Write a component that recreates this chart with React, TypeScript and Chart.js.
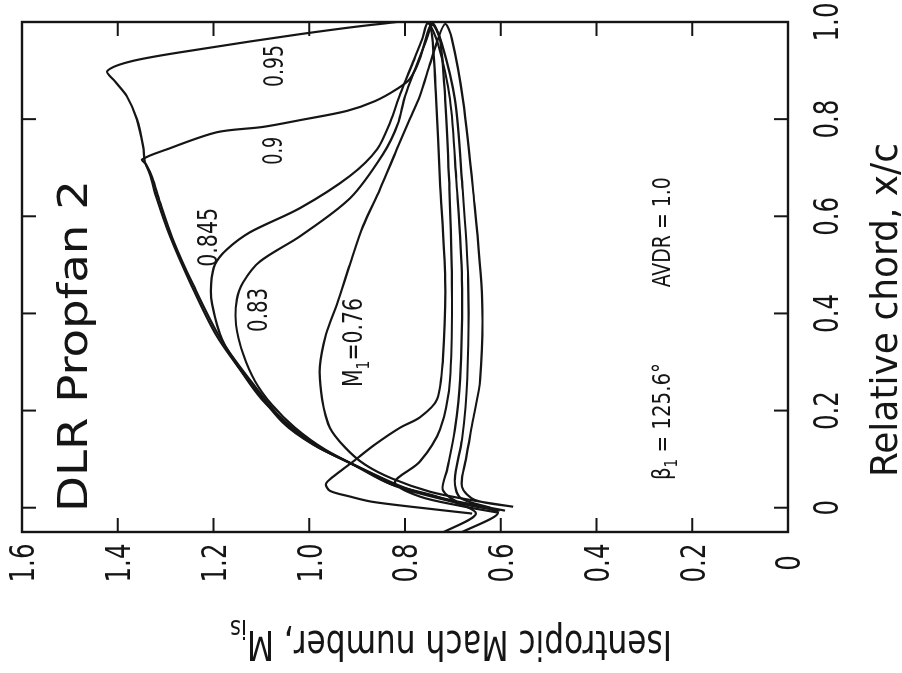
import React, { useEffect, useRef } from 'react';
import { Chart, registerables } from 'chart.js';

Chart.register(...registerables);

const FONT = '"Liberation Sans Narrow", "DejaVu Sans Condensed", "Open Sans", sans-serif';
const INK = '#151515';

// Axis ticks
const X_TICKS = [0, 0.2, 0.4, 0.6, 0.8, 1.0];
const X_TICK_LABELS = ['0', '0.2', '0.4', '0.6', '0.8', '1.0'];
const Y_TICKS = [0, 0.2, 0.4, 0.6, 0.8, 1.0, 1.2, 1.4, 1.6];
const Y_TICK_LABELS = ['0', '0.2', '0.4', '0.6', '0.8', '1.0', '1.2', '1.4', '1.6'];
const X_TITLE = 'Relative chord, x/c';
const Y_TITLE = 'Isentropic Mach number, M_{is}';

// Series: [x/c, M_is] along each blade-surface loop
const curve095: [number, number][] = [
  [-0.054, 0.727], [-0.012, 0.652], [0.021, 0.727], [0.049, 0.831], [0.089, 0.909],
  [0.130, 0.992], [0.175, 1.055], [0.258, 1.124], [0.353, 1.193], [0.464, 1.249],
  [0.559, 1.291], [0.635, 1.318], [0.687, 1.333], [0.711, 1.343], [0.744, 1.347],
  [0.800, 1.360], [0.847, 1.381], [0.878, 1.406], [0.899, 1.422], [0.920, 1.368],
  [0.944, 1.228], [0.975, 1.019], [0.996, 0.852], [1.002, 0.754], [0.975, 0.744],
  [0.841, 0.735], [0.676, 0.727], [0.470, 0.716], [0.305, 0.721], [0.223, 0.733],
  [0.186, 0.769], [0.165, 0.810], [0.130, 0.863], [0.093, 0.911], [0.064, 0.950],
  [0.049, 0.965], [0.035, 0.957], [0.023, 0.915], [0.012, 0.867], [-0.004, 0.733],
  [-0.012, 0.660],
];
const curve090: [number, number][] = [
  [-0.054, 0.689], [-0.010, 0.606], [0.016, 0.716], [0.045, 0.821], [0.085, 0.900],
  [0.126, 0.984], [0.171, 1.046], [0.252, 1.115], [0.346, 1.184], [0.460, 1.243],
  [0.553, 1.285], [0.629, 1.312], [0.680, 1.328], [0.707, 1.341], [0.717, 1.349],
  [0.738, 1.297], [0.773, 1.193], [0.784, 1.097], [0.798, 1.019], [0.817, 0.921],
  [0.837, 0.863], [0.862, 0.817], [0.883, 0.790], [0.924, 0.769], [0.998, 0.744],
  [0.965, 0.727], [0.841, 0.716], [0.676, 0.708], [0.470, 0.702], [0.264, 0.706],
  [0.161, 0.727], [0.095, 0.769], [0.052, 0.821], [0.023, 0.769], [0.004, 0.685],
  [-0.010, 0.606],
];
const curve0845: [number, number][] = [
  [-0.006, 0.591], [0.016, 0.706], [0.043, 0.810], [0.082, 0.894], [0.124, 0.978],
  [0.169, 1.040], [0.223, 1.099], [0.285, 1.145], [0.346, 1.182], [0.419, 1.203],
  [0.460, 1.205], [0.501, 1.197], [0.532, 1.172], [0.567, 1.124], [0.617, 1.019],
  [0.683, 0.915], [0.738, 0.858], [0.794, 0.831], [0.852, 0.810], [0.918, 0.783],
  [0.965, 0.764], [0.998, 0.752], [0.955, 0.731], [0.841, 0.706], [0.676, 0.693],
  [0.470, 0.681], [0.264, 0.685], [0.161, 0.696], [0.078, 0.712], [0.037, 0.721],
  [0.010, 0.685], [-0.006, 0.602],
];
const curve083: [number, number][] = [
  [0.000, 0.622], [0.014, 0.702], [0.041, 0.800], [0.078, 0.884], [0.120, 0.967],
  [0.165, 1.030], [0.212, 1.078], [0.260, 1.113], [0.316, 1.138], [0.377, 1.153],
  [0.429, 1.151], [0.464, 1.138], [0.507, 1.103], [0.559, 1.019], [0.637, 0.915],
  [0.728, 0.846], [0.790, 0.815], [0.847, 0.800], [0.913, 0.775], [0.961, 0.756],
  [0.994, 0.742], [0.955, 0.723], [0.841, 0.696], [0.676, 0.681], [0.470, 0.668],
  [0.264, 0.670], [0.140, 0.681], [0.058, 0.696], [0.021, 0.685], [0.000, 0.622],
];
const curve076: [number, number][] = [
  [0.002, 0.574], [0.016, 0.664], [0.033, 0.748], [0.060, 0.827], [0.089, 0.884],
  [0.124, 0.925], [0.165, 0.957], [0.223, 0.973], [0.291, 0.978], [0.357, 0.965],
  [0.419, 0.942], [0.501, 0.915], [0.579, 0.888], [0.656, 0.852], [0.738, 0.817],
  [0.800, 0.790], [0.847, 0.769], [0.913, 0.748], [0.965, 0.731], [0.996, 0.716],
  [0.965, 0.702], [0.841, 0.679], [0.656, 0.658], [0.429, 0.639], [0.264, 0.643],
  [0.181, 0.658], [0.099, 0.673], [0.043, 0.681], [0.016, 0.654], [0.002, 0.574],
];

const SERIES_NAMES = ['M1=0.95', 'M1=0.9', 'M1=0.845', 'M1=0.83', 'M1=0.76'];
const SERIES = [curve095, curve090, curve0845, curve083, curve076];

// In-plot annotations (text, left x/c, baseline M_is)
const NOTE_TEXT = ['DLR Propfan 2', '0.95', '0.9', '0.845', '0.83', 'M_{1}=0.76', 'β_{1} = 125.6°', 'AVDR = 1.0'];
const NOTE_X = [-0.009, 0.866, 0.706, 0.496, 0.362, 0.2485, 0.057, 0.454];
const NOTE_Y = [1.464, 1.055, 1.057, 1.193, 1.088, 0.890, 0.2465, 0.2465];
// styling for the annotations: font size, fitted length (px)
const NOTE_STYLE: [number, number][] = [[40, 332], [27, 42], [27, 28], [27, 59], [27, 44], [27, 89], [25, 117], [25, 110]];

type Part = { t: string; sub: boolean };
function splitParts(s: string): Part[] {
  const out: Part[] = [];
  const re = /_\{([^}]*)\}/g;
  let last = 0;
  let m: RegExpExecArray | null;
  while ((m = re.exec(s))) {
    if (m.index > last) out.push({ t: s.slice(last, m.index), sub: false });
    out.push({ t: m[1], sub: true });
    last = re.lastIndex;
  }
  if (last < s.length) out.push({ t: s.slice(last), sub: false });
  return out;
}

function drawFitted(ctx: CanvasRenderingContext2D, s: string, size: number, targetW: number) {
  const parts = splitParts(s);
  const sub = size * 0.68;
  const widths = parts.map((p) => {
    ctx.font = `${p.sub ? sub : size}px ${FONT}`;
    return ctx.measureText(p.t).width;
  });
  const total = widths.reduce((a, b) => a + b, 0);
  const k = targetW / total;
  ctx.save();
  ctx.scale(k, 1);
  let cx = 0;
  parts.forEach((p, i) => {
    ctx.font = `${p.sub ? sub : size}px ${FONT}`;
    ctx.fillText(p.t, cx, p.sub ? size * 0.28 : 0);
    cx += widths[i];
  });
  ctx.restore();
}

function drawCentered(ctx: CanvasRenderingContext2D, t: string, cx: number, baseline: number, size: number, k: number) {
  ctx.font = `${size}px ${FONT}`;
  const w = ctx.measureText(t).width;
  ctx.save();
  ctx.translate(cx, baseline);
  ctx.scale(k, 1);
  ctx.fillText(t, -w / 2, 0);
  ctx.restore();
}

const TICK = 14;
const TICK_FONT = 34;
const TICK_SQUEEZE = 0.8;

const decorPlugin = {
  id: 'decor',
  afterDatasetsDraw(chart: any) {
    const { ctx, chartArea: a, scales } = chart;
    const xs = scales.x;
    const ys = scales.y;
    ctx.save();
    ctx.strokeStyle = INK;
    ctx.lineWidth = 2.4;
    ctx.strokeRect(a.left, a.top, a.right - a.left, a.bottom - a.top);
    ctx.lineWidth = 2;
    ctx.beginPath();
    X_TICKS.forEach((v) => {
      const p = xs.getPixelForValue(v);
      if (p > a.left + 2 && p < a.right - 2) {
        ctx.moveTo(p, a.bottom);
        ctx.lineTo(p, a.bottom - TICK);
        ctx.moveTo(p, a.top);
        ctx.lineTo(p, a.top + TICK);
      }
    });
    Y_TICKS.forEach((v) => {
      const p = ys.getPixelForValue(v);
      if (p > a.top + 2 && p < a.bottom - 2) {
        ctx.moveTo(a.left, p);
        ctx.lineTo(a.left + TICK, p);
        ctx.moveTo(a.right, p);
        ctx.lineTo(a.right - TICK, p);
      }
    });
    ctx.stroke();

    ctx.fillStyle = INK;
    ctx.textBaseline = 'alphabetic';
    ctx.textAlign = 'left';

    // tick labels, placed with the chart's own scales
    const capHalf = TICK_FONT * 0.365;
    X_TICKS.forEach((v, i) => {
      const p = xs.getPixelForValue(v);
      drawCentered(ctx, X_TICK_LABELS[i], p, a.bottom + 38 + capHalf, TICK_FONT, TICK_SQUEEZE);
    });
    Y_TICKS.forEach((v, i) => {
      const p = ys.getPixelForValue(v);
      drawCentered(ctx, Y_TICK_LABELS[i], a.left - 31, p + capHalf, TICK_FONT, TICK_SQUEEZE);
    });

    NOTE_TEXT.forEach((t, i) => {
      const px = xs.getPixelForValue(NOTE_X[i]);
      const py = ys.getPixelForValue(NOTE_Y[i]);
      ctx.save();
      ctx.translate(px, py);
      drawFitted(ctx, t, NOTE_STYLE[i][0], NOTE_STYLE[i][1]);
      ctx.restore();
    });

    // axis titles
    ctx.save();
    ctx.translate(196, 897);
    drawFitted(ctx, X_TITLE, 38, 334);
    ctx.restore();

    ctx.save();
    ctx.translate(42, 451);
    ctx.rotate(-Math.PI / 2);
    ctx.translate(-221, 0);
    drawFitted(ctx, Y_TITLE, 40, 442);
    ctx.restore();

    ctx.restore();
  },
};

export default function App() {
  const ref = useRef<HTMLCanvasElement | null>(null);

  useEffect(() => {
    if (!ref.current) return;
    const chart = new Chart(ref.current, {
      type: 'scatter',
      data: {
        datasets: SERIES.map((s, i) => ({
          label: SERIES_NAMES[i],
          data: s.map(([x, y]) => ({ x, y })),
          showLine: true,
          borderColor: INK,
          borderWidth: 2.2,
          pointRadius: 0,
          pointHoverRadius: 0,
          tension: 0.3,
          fill: false,
        })),
      },
      options: {
        animation: false,
        responsive: false,
        devicePixelRatio: 1,
        layout: { padding: { top: 22, right: 22, left: 0, bottom: 0 } },
        plugins: { legend: { display: false }, tooltip: { enabled: false }, title: { display: false } },
        scales: {
          x: {
            type: 'linear',
            min: -0.05,
            max: 1.0,
            grid: { display: false, drawTicks: false },
            border: { display: false },
            afterBuildTicks: (s: any) => {
              s.ticks = X_TICKS.map((v) => ({ value: v }));
            },
            afterFit: (s: any) => {
              s.height = 114;
            },
            ticks: { display: false },
          },
          y: {
            type: 'linear',
            min: 0,
            max: 1.6,
            grid: { display: false, drawTicks: false },
            border: { display: false },
            afterBuildTicks: (s: any) => {
              s.ticks = Y_TICKS.map((v) => ({ value: v }));
            },
            afterFit: (s: any) => {
              s.width = 141;
            },
            ticks: { display: false },
          },
        },
      },
      plugins: [decorPlugin],
    });
    return () => chart.destroy();
  }, []);

  return (
    <div style={{ position: 'fixed', left: 0, top: 0, width: 902, height: 673, overflow: 'hidden', background: '#fff' }}>
      <div
        style={{
          position: 'absolute',
          left: 0,
          top: 0,
          width: 673,
          height: 902,
          transformOrigin: '0 0',
          transform: 'translate(0px, 673px) rotate(-90deg)',
        }}
      >
        <canvas ref={ref} width={673} height={902} style={{ display: 'block', width: 673, height: 902 }} />
      </div>
    </div>
  );
}
